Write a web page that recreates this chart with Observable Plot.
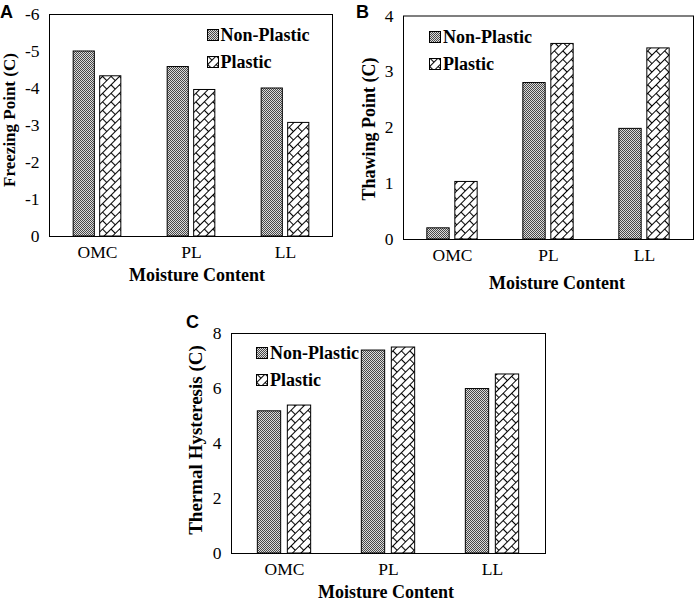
<!DOCTYPE html>
<html><head><meta charset="utf-8">
<script src="https://cdn.jsdelivr.net/npm/d3@7"></script>
<script src="https://cdn.jsdelivr.net/npm/@observablehq/plot@0.6"></script>
<style>
body{margin:0;background:#fff;}
#wrap{position:relative;width:699px;height:601px;overflow:hidden;background:#fff;}
.abs{position:absolute;white-space:nowrap;line-height:1;color:#000;}
.serif, .serif span{font-family:"Liberation Serif","Times New Roman",serif !important;}
#wrap svg text{font-family:"Liberation Serif","Times New Roman",serif !important;}
.b{font-weight:bold;}
.letter{font-family:"Liberation Sans",Arial,sans-serif !important;font-weight:bold;font-size:18px;}
.plot{position:absolute;}
.leg{display:flex;align-items:center;}
.leg svg{display:block;margin-right:2px;}
</style>
</head><body>
<svg width="0" height="0" style="position:absolute">
<defs>
<pattern id="patNP" patternUnits="userSpaceOnUse" width="2" height="2">
<rect width="2" height="2" fill="#dcdcdc"/>
<rect width="1" height="1" fill="#484848"/>
<rect x="1" y="1" width="1" height="1" fill="#484848"/>
</pattern>
<pattern id="patP" patternUnits="userSpaceOnUse" width="12" height="12" patternTransform="rotate(-45)">
<rect width="12" height="12" fill="#fff"/>
<path d="M0,0.5H12M0,6.5H12M0.5,0.5V6.5M6.5,6.5V12.5" stroke="#000" stroke-width="1.1" fill="none"/>
</pattern>
</defs></svg>
<div id="wrap"></div>
<script>
const categories = ["OMC", "PL", "LL"];
const series = ["Non-Plastic", "Plastic"];
const freezingNonPlastic = [-5.0, -4.58, -4.0];
const freezingPlastic = [-4.33, -3.96, -3.07];
const thawingNonPlastic = [0.2, 2.8, 1.98];
const thawingPlastic = [1.03, 3.5, 3.42];
const hysteresisNonPlastic = [5.17, 7.38, 5.98];
const hysteresisPlastic = [5.38, 7.49, 6.51];
const freezingTicks = [0, -1, -2, -3, -4, -5, -6];
const thawingTicks = [0, 1, 2, 3, 4];
const hysteresisTicks = [0, 2, 4, 6, 8];

const SERIF = '"Liberation Serif","Times New Roman",serif';
const wrap = document.getElementById("wrap");
const fills = ["url(#patNP)", "url(#patP)"];

function addDiv(cls, text, style) {
  const d = document.createElement("div");
  d.className = "abs " + cls;
  d.textContent = text;
  Object.assign(d.style, style);
  wrap.appendChild(d);
  return d;
}

function panel(o) {
  const data = categories.flatMap((c, i) => [
    {cat: c, series: series[0], value: o.non[i]},
    {cat: c, series: series[1], value: o.pl[i]}
  ]);
  const bw = (o.width - o.mL - o.mR) / categories.length;
  const plot = Plot.plot({
    width: o.width, height: o.height,
    marginLeft: o.mL, marginRight: o.mR, marginTop: o.mT, marginBottom: o.mB,
    style: {fontFamily: SERIF, fontSize: "17.5px", color: "#000", background: "transparent", overflow: "visible"},
    x: {domain: categories, padding: 0, axis: null},
    y: {domain: o.domain, axis: null},
    color: {domain: series, range: fills},
    marks: [
      Plot.barY(data.filter(d => d.series === series[0]), {
        x: "cat", y: "value", fill: "series", stroke: "#000", strokeWidth: 1,
        insetLeft: bw / 2 - o.gap / 2 - o.barW, insetRight: bw / 2 + o.gap / 2
      }),
      Plot.barY(data.filter(d => d.series === series[1]), {
        x: "cat", y: "value", fill: "series", stroke: "#000", strokeWidth: 1,
        insetLeft: bw / 2 + o.gap / 2, insetRight: bw / 2 - o.gap / 2 - o.barW
      }),
      Plot.axisY({ticks: o.ticks, tickSize: 0, tickPadding: 10, tickFormat: d => String(d), label: null, fontSize: 17.5, fontFamily: SERIF}),
      Plot.axisX({tickSize: 0, tickPadding: 9, label: null, fontSize: 17.5, fontFamily: SERIF}),
      Plot.frame({stroke: "#000", strokeWidth: 1})
    ]
  });
  plot.classList.add("plot");
  plot.style.left = o.left + "px";
  plot.style.top = o.top + "px";
  wrap.appendChild(plot);

  addDiv("letter", o.letter, {left: o.letterPos[0] + "px", top: o.letterPos[1] + "px"});
  addDiv("serif b", "Moisture Content", {left: o.xl[0] + "px", top: (o.xl[1] - 9) + "px", fontSize: "18px", fontFamily: SERIF, transform: "translateX(-50%)"});
  addDiv("serif b", o.ylabel, {left: o.yl[0] + "px", top: o.yl[1] + "px", fontSize: o.ylSize + "px", fontFamily: SERIF, transform: "translate(-50%,-50%) rotate(-90deg)"});
  series.forEach((s, i) => {
    const d = document.createElement("div");
    d.className = "abs serif b leg";
    Object.assign(d.style, {left: o.leg[0] + "px", top: (o.leg[1] + i * o.leg[2] - 9) + "px", fontSize: "18px", height: "18px", fontFamily: SERIF});
    d.innerHTML = `<svg width="12" height="12"><rect x="0.5" y="0.5" width="11" height="11" fill="${fills[i]}" stroke="#000" stroke-width="1"/></svg><span style='font-family:${SERIF}'>${s}</span>`;
    wrap.appendChild(d);
  });
}

panel({
  letter: "A", letterPos: [0, 3],
  left: 0, top: 0, width: 345, height: 270, mL: 49, mR: 13, mT: 14, mB: 34,
  domain: [0, -6], ticks: freezingTicks, non: freezingNonPlastic, pl: freezingPlastic,
  barW: 21.5, gap: 5,
  xl: [197, 275], yl: [9, 120], ylSize: 17, ylabel: "Freezing Point (C)",
  leg: [206.5, 35, 26.5]
});
panel({
  letter: "B", letterPos: [356, 3],
  left: 350, top: 0, width: 349, height: 270, mL: 53, mR: 6, mT: 15.5, mB: 31,
  domain: [0, 4], ticks: thawingTicks, non: thawingNonPlastic, pl: thawingPlastic,
  barW: 23, gap: 5,
  xl: [557, 283], yl: [368.5, 129], ylSize: 18, ylabel: "Thawing Point (C)",
  leg: [429, 37, 27]
});
panel({
  letter: "C", letterPos: [186, 313],
  left: 180, top: 300, width: 370, height: 290, mL: 51, mR: 5, mT: 33, mB: 37,
  domain: [0, 8], ticks: hysteresisTicks, non: hysteresisNonPlastic, pl: hysteresisPlastic,
  barW: 24, gap: 6,
  xl: [386, 591.5], yl: [195, 440], ylSize: 19, ylabel: "Thermal Hysteresis (C)",
  leg: [256, 353, 27]
});
</script>
</body></html>
